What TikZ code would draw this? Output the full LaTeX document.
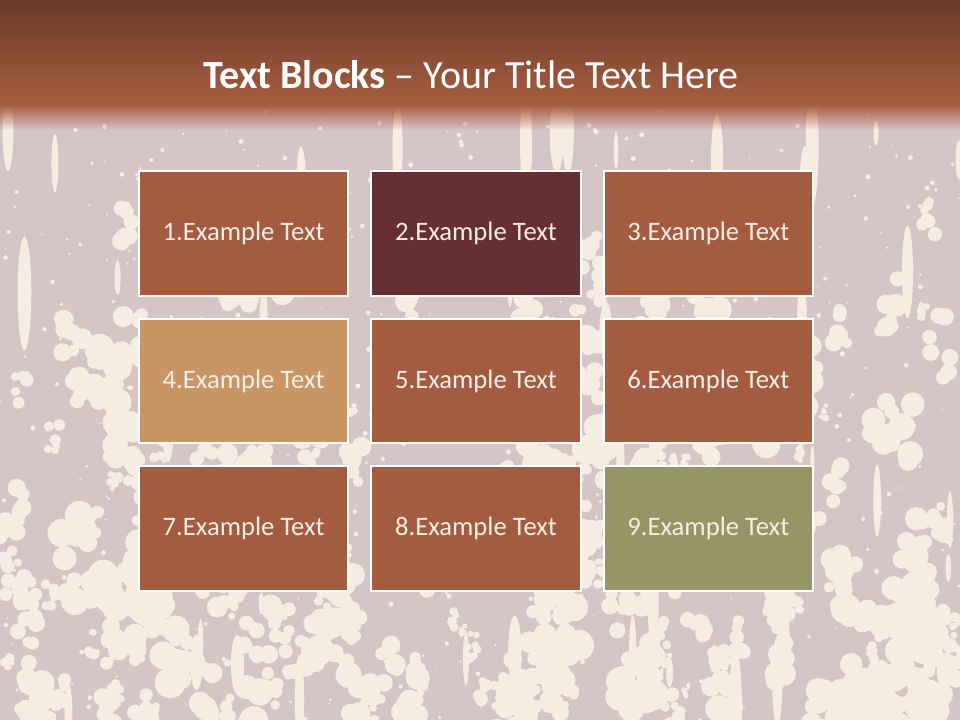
\documentclass[tikz,border=0pt]{standalone}
\usepackage{fontspec}
\setmainfont{Carlito}
\usepackage{tikz}
\usetikzlibrary{matrix,fadings}

\definecolor{bgmauve}{HTML}{D6C5C7}
\definecolor{bgcream}{HTML}{F5EDE2}
\definecolor{bardark}{HTML}{6A3928}
\definecolor{barlight}{HTML}{A75E41}
\definecolor{terra}{HTML}{A45C40}
\definecolor{maroon}{HTML}{662F32}
\definecolor{tan}{HTML}{C99564}
\definecolor{olive}{HTML}{979566}
\definecolor{blocktext}{HTML}{F6EEE6}

\begin{document}
\begin{tikzpicture}[x=0.75pt, y=-0.75pt,
	block/.style={draw=white, line width=1.5pt, fill=terra, text=blocktext, minimum width=157pt, minimum height=93.5pt, inner sep=0pt, font=\fontsize{20}{24}\selectfont}]
	\path[use as bounding box] (0,0) rectangle (960,720);
	% background with splatter
	\begin{scope}
		\clip (0,0) rectangle (960,720);
		\fill[bgmauve] (0,0) rectangle (960,720);
		\pgfmathsetseed{17}
		% drips
		\foreach \k in {1,...,60}{
			\pgfmathsetmacro{\cx}{960*rnd}
			\pgfmathsetmacro{\cy}{120+600*rnd}
			\pgfmathsetmacro{\cs}{2+5*rnd}
			\fill[bgcream] (\cx,\cy) ellipse [x radius=\cs, y radius=\cs*(4+6*rnd)];
		}
		% patches
		\foreach \k in {1,...,260}{
			\pgfmathsetmacro{\cx}{960*rnd}
			\pgfmathsetmacro{\cy}{110+610*(rnd^0.4)}
			\pgfmathsetmacro{\cs}{3+14*rnd}
			\foreach \j in {1,...,7}{
				\fill[bgcream] (\cx+\cs*rand*0.9,\cy+\cs*rand*2.2) circle [radius=\cs*(0.45+0.5*rnd)];
			}
		}
		\foreach \k in {1,...,500}{
			\pgfmathsetmacro{\bx}{960*rnd}
			\pgfmathsetmacro{\by}{110+610*rnd}
			\fill[bgcream] (\bx,\by) circle [radius=0.8+1.8*rnd];
		}
		\fill[top color=bardark, bottom color=barlight] (0,0) rectangle (960,106);
		\fill[barlight, path fading=south] (0,105) rectangle (960,130);
	\end{scope}
	\node[text=white, font=\fontsize{30}{35}\selectfont] (title) at (471,75) {\textbf{Text Blocks} -- Your Title Text Here};
	\matrix (B) [matrix of nodes, nodes={block}, column sep=15.75pt, row sep=15.75pt] at (476,381) {
		1.Example Text & |[fill=maroon]| 2.Example Text & 3.Example Text \\
		|[fill=tan]| 4.Example Text & 5.Example Text & 6.Example Text \\
		7.Example Text & 8.Example Text & |[fill=olive]| 9.Example Text \\
	};
\end{tikzpicture}
\end{document}
